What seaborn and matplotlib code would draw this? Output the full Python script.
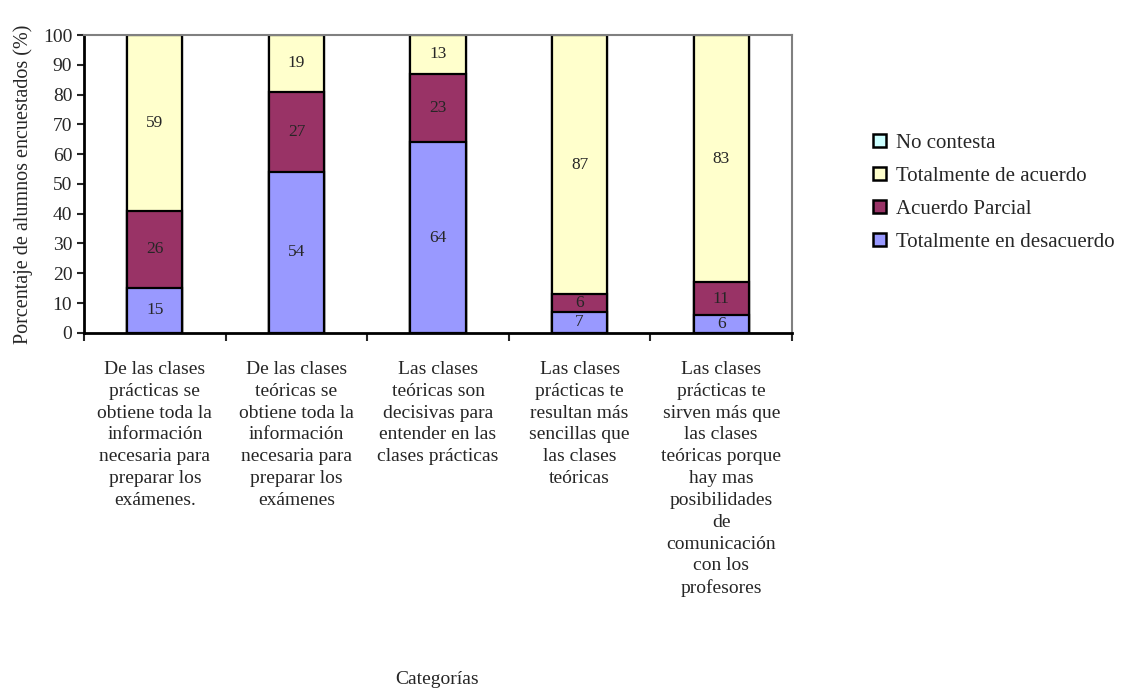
import numpy as np
import pandas as pd
import matplotlib
matplotlib.use("Agg")
import matplotlib.pyplot as plt
import seaborn as sns
from matplotlib.patches import Patch

categorias = [
    "De las clases\nprácticas se\nobtiene toda la\ninformación\nnecesaria para\npreparar los\nexámenes.",
    "De las clases\nteóricas se\nobtiene toda la\ninformación\nnecesaria para\npreparar los\nexámenes",
    "Las clases\nteóricas son\ndecisivas para\nentender en las\nclases prácticas",
    "Las clases\nprácticas te\nresultan más\nsencillas que\nlas clases\nteóricas",
    "Las clases\nprácticas te\nsirven más que\nlas clases\nteóricas porque\nhay mas\nposibilidades\nde\ncomunicación\ncon los\nprofesores",
]
desacuerdo = [15, 54, 64, 7, 6]
parcial = [26, 27, 23, 6, 11]
acuerdo = [59, 19, 13, 87, 83]
no_contesta = [0, 0, 0, 0, 0]

series = ["Totalmente en desacuerdo", "Acuerdo Parcial", "Totalmente de acuerdo", "No contesta"]
colores = ["#9999FF", "#993366", "#FFFFCC", "#CCFFFF"]

df = pd.DataFrame({
    "cat": categorias,
    series[0]: desacuerdo,
    series[1]: parcial,
    series[2]: acuerdo,
    series[3]: no_contesta,
})
cum = df[series].cumsum(axis=1)

sns.set_style("white")
plt.rcParams["font.family"] = ["Liberation Serif", "DejaVu Serif"]

fig = plt.figure(figsize=(11.21, 6.89), dpi=100)
ax = fig.add_axes([0.075, 0.517, 0.6315, 0.432])

# draw from top of the stack down so lower segments overlap upper ones
for s, c in reversed(list(zip(series, colores))):
    sns.barplot(x="cat", y=cum[s], data=df, color=c, width=0.39,
                edgecolor="black", linewidth=1.6, saturation=1, ax=ax)

for i in range(len(categorias)):
    base = 0
    for s in series[:3]:
        v = df[s][i]
        if v > 0:
            ax.text(i, base + v / 2, str(v), ha="center", va="center", fontsize=12.5)
        base += v

ax.set_ylim(0, 100)
ax.set_xlim(-0.5, 4.5)
ax.set_yticks(range(0, 101, 10))
ax.tick_params(axis="y", labelsize=14, length=5, width=1.5, direction="out", left=True)
ax.set_xticks(np.arange(-0.5, 5, 1), minor=False)
ax.set_xticklabels([])
ax.tick_params(axis="x", length=6, width=1.5, direction="out", bottom=True)
for i, t in enumerate(categorias):
    ax.text(i, -9.5, t, ha="center", va="top", fontsize=14, linespacing=1.37,
            transform=ax.transData, clip_on=False)

for side in ["left", "bottom"]:
    ax.spines[side].set_color("black")
    ax.spines[side].set_linewidth(2)
for side in ["top", "right"]:
    ax.spines[side].set_color("#808080")
    ax.spines[side].set_linewidth(1.5)

ax.set_xlabel("")
ax.set_ylabel("Porcentaje de alumnos encuestados (%)", fontsize=14.5, labelpad=7)
fig.text(0.39, 0.002, "Categorías", ha="center", va="bottom", fontsize=14)

handles = [Patch(facecolor=c, edgecolor="black", linewidth=1.8, label=s)
           for s, c in zip(series, colores)]
ax.legend(handles=handles[::-1], loc="center left", bbox_to_anchor=(1.1, 0.47),
          frameon=False, fontsize=15, handlelength=0.6, handleheight=0.6,
          handletextpad=0.5, labelspacing=0.68, borderpad=0)

fig.savefig("out.png", dpi=100)
